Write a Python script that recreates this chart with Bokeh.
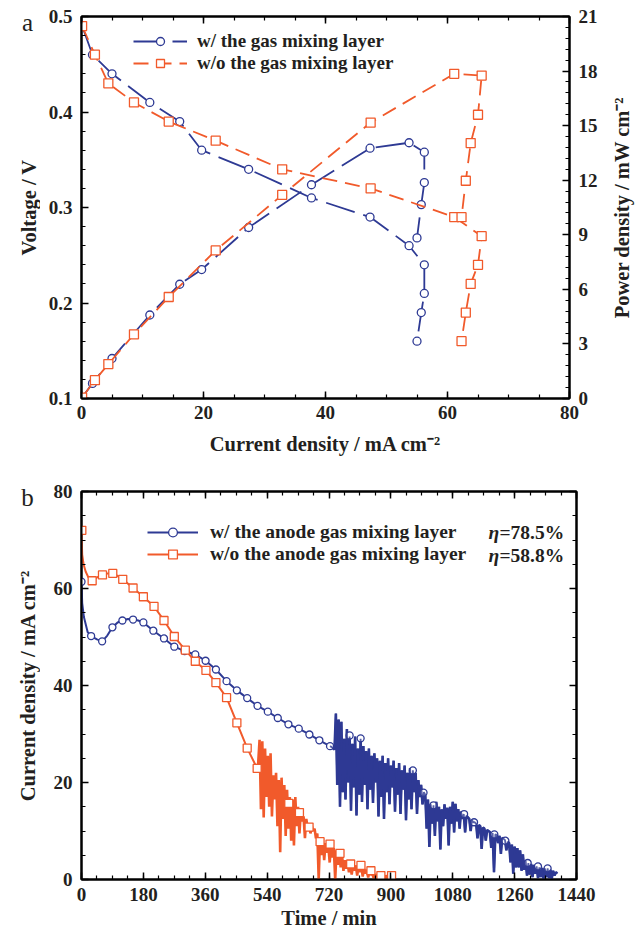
import numpy as np
from bokeh.plotting import figure
from bokeh.models import (Range1d, LinearAxis, Legend, LegendItem, Label,
                          SingleIntervalTicker, CustomJSTickFormatter)
from bokeh.core.properties import value
from bokeh.layouts import column, row
from bokeh.embed import file_html
from bokeh.resources import INLINE

# ---------------- panel a : polarization / power curves ----------------
I_w = [0.1, 1.8, 5.0, 11.2, 16.1, 19.7, 27.4, 37.7, 47.3, 53.7, 56.2, 56.2, 55.7, 55.0]
V_w = [0.49, 0.46, 0.44, 0.41, 0.39, 0.36, 0.34, 0.31, 0.29, 0.26, 0.24, 0.21, 0.19, 0.16]
P_w = [0.05, 0.83, 2.2, 4.59, 6.28, 7.09, 9.40, 11.75, 13.76, 14.06, 13.54, 11.87, 10.66, 8.83]

I_wo = [0.1, 2.2, 4.4, 8.6, 14.3, 22.0, 32.9, 47.4, 61.1, 65.6, 65.0, 63.8, 63.0, 62.3]
V_wo = [0.49, 0.46, 0.43, 0.41, 0.39, 0.37, 0.34, 0.32, 0.29, 0.27, 0.24, 0.22, 0.19, 0.16]
P_wo = [0.05, 1.01, 1.89, 3.53, 5.58, 8.14, 11.19, 15.17, 17.85, 17.75, 15.6, 14.04, 11.97, 9.97]

# ---------------- panel b : current density vs time ----------------
blue_t = [0, 2, 7, 18, 28, 45, 60, 75, 90, 105, 119, 135, 150, 165, 180, 209, 240, 270,
          300, 331, 361, 391, 422, 452, 482, 512, 542, 571, 602, 632, 663, 692, 723]
blue_j = [61.4, 57.0, 54.1, 51.0, 50.2, 49.5, 49.1, 50.3, 52.0, 53.0, 53.4, 53.7, 53.6, 53.4,
          53.0, 51.3, 49.7, 48.0, 47.1, 46.4, 45.1, 43.3, 40.9, 39.0, 37.4, 35.8, 34.6, 33.3,
          32.0, 31.1, 29.9, 28.7, 27.5]
blue_noise_t0, blue_noise_dt = 728, 4
blue_noise_j = [
    27.3, 27.0, 26.8, 34.2, 19.5, 33.0, 15.0, 32.5, 18.0, 29.0,
    16.5, 31.0, 20.0, 29.5, 14.2, 28.0, 19.0, 29.5, 13.2, 27.0,
    17.5, 29.0, 16.0, 27.5, 19.5, 26.5, 14.5, 27.0, 18.5, 25.5,
    15.8, 26.0, 20.0, 25.0, 13.0, 24.5, 17.0, 25.5, 12.5, 24.0,
    18.0, 25.0, 15.5, 23.5, 19.0, 24.5, 14.0, 23.0, 17.5, 24.0,
    13.5, 22.5, 18.5, 23.5, 12.2, 22.0, 16.5, 23.0, 14.5, 22.5,
    18.0, 22.0, 13.5, 20.5, 17.0, 19.5, 15.5, 18.0, 17.5, 10.5,
    16.5, 6.7, 15.5, 11.5, 15.3, 9.0, 16.0, 12.0, 15.0, 6.2,
    14.5, 11.0, 15.5, 12.5, 14.8, 7.0, 15.0, 11.5, 16.0, 9.7,
    15.6, 12.0, 14.5, 10.5, 14.0, 12.5, 13.5, 9.7, 13.2, 12.8,
    12.5, 10.0, 12.2, 11.8, 11.8, 11.5, 8.5, 11.2, 11.0, 6.3,
    10.7, 10.5, 8.0, 10.2, 10.0, 9.8, 6.5, 9.6, 1.5, 9.3,
    9.2, 7.5, 9.0, 5.3, 8.6, 8.4, 8.1, 6.0, 7.8, 7.5,
    3.5, 7.2, 1.2, 6.8, 2.5, 6.5, 2.5, 6.0, 1.8, 5.2,
    2.0, 3.9, 0.8, 3.4, 1.0, 3.2, 0.5, 3.0, 1.2, 2.7,
    0.3, 2.5, 0.5, 2.4, 0.2, 2.3, 0.5, 2.3, 0.3, 2.0,
    0.2, 1.8, 0.8, 1.5, 1.2]
blue_mark_t = [0, 28, 60, 90, 119, 150, 180, 209, 240, 270, 300, 331, 361, 391, 422, 452, 482,
               512, 542, 571, 602, 632, 663, 692, 723, 780, 812, 964, 995, 1024, 1113, 1142,
               1201, 1233, 1298, 1328, 1356]
blue_mark_j = [61.4, 50.2, 49.1, 52.0, 53.4, 53.6, 53.0, 51.3, 49.7, 48.0, 47.1, 46.4, 45.1,
               43.3, 40.9, 39.0, 37.4, 35.8, 34.6, 33.3, 32.0, 31.1, 29.9, 28.7, 27.5, 29.7,
               29.1, 22.5, 17.9, 15.3, 13.5, 11.8, 9.3, 8.0, 3.4, 2.7, 2.3]

orange_t = [0, 2, 6, 12, 20, 31, 45, 61, 75, 91, 105, 120, 150, 180, 211, 240, 270, 302, 331,
            362, 391, 422, 452, 482, 511]
orange_j = [72.0, 67.0, 65.0, 63.5, 62.3, 61.6, 62.3, 62.8, 63.1, 63.1, 62.6, 61.9, 60.1, 58.3,
            56.3, 53.4, 50.1, 47.3, 45.0, 43.1, 40.6, 37.5, 32.3, 27.1, 22.9]
orange_noise_t0, orange_noise_dt = 514, 4
orange_noise_j = [
    24.0, 28.8, 14.5, 28.5, 12.8, 27.0, 17.0, 25.5, 15.0, 26.0,
    13.0, 21.5, 16.5, 22.0, 11.0, 20.5, 5.6, 21.0, 12.5, 19.5,
    9.0, 18.5, 10.5, 17.0, 8.0, 16.5, 7.0, 17.0, 11.0, 15.0,
    9.5, 14.0, 12.0, 13.0, 8.5, 12.5, 10.5, 11.5, 9.5, 11.0,
    10.0, 10.5, 8.5, 9.5, 0.0, 8.7, 5.0, 8.0, 4.0, 7.5,
    5.5, 7.0, 3.5, 7.2, 4.5, 6.5, 0.0, 6.0, 3.0, 5.5,
    2.5, 5.0, 1.8, 4.0, 2.2, 3.5, 1.5, 3.2, 1.0, 3.0,
    1.8, 2.9, 0.8, 2.8, 1.5, 2.9, 0.6, 2.2, 1.2, 2.0,
    0.4, 1.8, 1.0, 1.2, 0.3, 1.1, 0.6, 1.0, 0.2, 0.8,
    0.5, 0.8, 0.3, 0.8, 0.4, 0.8, 0.5, 0.7, 0.7, 0.6]
orange_mark_t = [1, 31, 61, 91, 120, 150, 180, 211, 240, 270, 302, 331, 362, 391, 422, 452, 482,
                 511, 603, 634, 662, 694, 723, 752, 783, 813, 842, 871, 902]
orange_mark_j = [72.0, 61.6, 62.8, 63.1, 61.9, 60.1, 58.3, 56.3, 53.4, 50.1, 47.3, 45.0, 43.1,
                 40.6, 37.5, 32.3, 27.1, 22.9, 15.7, 13.8, 10.8, 7.8, 7.3, 5.4, 3.2, 2.9, 1.8,
                 0.8, 0.8]

labels_a = ["w/ the gas mixing layer", "w/o the gas mixing layer"]
labels_b = ["w/ the anode gas mixing layer", "w/o the anode gas mixing layer"]
eff_b = ["78.5%", "58.8%"]
title_voltage = "Voltage / V"
title_power = "Power density / mW cm\u207b\u00b2"
title_current = "Current density / mA cm\u207b\u00b2"
title_time = "Time / min"

blue_noise_t = blue_noise_t0 + blue_noise_dt * np.arange(len(blue_noise_j))
orange_noise_t = orange_noise_t0 + orange_noise_dt * np.arange(len(orange_noise_j))

FONT = "Liberation Serif"
TXT = "#231F20"
BLUE = "#2E3A94"
ORANGE = "#F15A2B"
AX_FS = "20.5px"
TICK_FS = "19px"


def style_axis(ax, interval, minor, show_labels=True):
    ax.ticker = SingleIntervalTicker(interval=interval, num_minor_ticks=minor)
    ax.axis_line_width = 2
    ax.axis_line_color = "black"
    ax.major_tick_in = 7
    ax.major_tick_out = 0
    ax.minor_tick_in = 4
    ax.minor_tick_out = 0
    ax.major_tick_line_width = 1.5
    ax.minor_tick_line_width = 1.2
    ax.major_tick_line_color = "black"
    ax.minor_tick_line_color = "black"
    ax.major_label_text_font = FONT
    ax.major_label_text_font_style = "bold"
    ax.major_label_text_font_size = TICK_FS
    ax.major_label_text_color = TXT
    ax.axis_label_text_font = FONT
    ax.axis_label_text_font_style = "bold"
    ax.axis_label_text_font_size = AX_FS
    ax.axis_label_text_color = TXT
    if not show_labels:
        ax.formatter = CustomJSTickFormatter(code="return ''")
        ax.major_label_text_font_size = "0px"
        ax.major_label_standoff = 0
        ax.axis_label_standoff = 0


def side_fig(w, h):
    f = figure(width=w, height=h, x_range=Range1d(0, w), y_range=Range1d(0, h),
               output_backend="svg", toolbar_location=None, min_border=0,
               x_axis_location=None, y_axis_location=None)
    try:
        f.frame_align = False
    except Exception:
        pass
    try:
        f.title = None
    except Exception:
        f.title.text_font_size = "0px"
        f.title.standoff = 0
    f.xgrid.visible = False
    f.ygrid.visible = False
    f.outline_line_color = None
    return f


def side_text(f, x, y, txt, size, style="bold", angle=0.0):
    f.text(x=[x], y=[y], text=[txt], angle=angle, text_font=value(FONT), text_font_size=size,
           text_font_style=style, text_color=TXT, text_align="center", text_baseline="middle")


# ================= panel a =================
p1 = figure(frame_width=488, frame_height=382, x_range=Range1d(0, 80), y_range=Range1d(0.1, 0.5),
            output_backend="svg", toolbar_location=None,
            min_border_left=41, min_border_right=38, min_border_top=16, min_border_bottom=67)
p1.extra_y_ranges = {"pw": Range1d(0, 21)}
p1.xgrid.visible = False
p1.ygrid.visible = False
p1.outline_line_color = "black"
p1.outline_line_width = 2

style_axis(p1.xaxis[0], 20, 4)
p1.xaxis[0].axis_label = title_current
p1.xaxis[0].major_label_standoff = 7
p1.xaxis[0].axis_label_standoff = 11
style_axis(p1.yaxis[0], 0.1, 5)
p1.yaxis[0].major_label_standoff = 9

ax_r = LinearAxis(y_range_name="pw")
style_axis(ax_r, 3, 5)
ax_r.major_label_standoff = 9
p1.add_layout(ax_r, "right")
ax_t = LinearAxis()
style_axis(ax_t, 20, 4, show_labels=False)
p1.add_layout(ax_t, "above")

l1 = p1.line(I_w, V_w, color=BLUE, line_width=1.8, line_dash="30 9")
s1 = p1.scatter(I_w, V_w, marker="circle", size=8, line_color=BLUE, fill_color="white", line_width=1.3)
p1.line(I_w, P_w, y_range_name="pw", color=BLUE, line_width=1.8, line_dash="30 9")
p1.scatter(I_w, P_w, y_range_name="pw", marker="circle", size=8, line_color=BLUE,
           fill_color="white", line_width=1.3)
l2 = p1.line(I_wo, V_wo, color=ORANGE, line_width=1.8, line_dash="15 8")
s2 = p1.scatter(I_wo, V_wo, marker="square", size=9, line_color=ORANGE, fill_color="white", line_width=1.3)
p1.line(I_wo, P_wo, y_range_name="pw", color=ORANGE, line_width=1.8, line_dash="15 8")
p1.scatter(I_wo, P_wo, y_range_name="pw", marker="square", size=9, line_color=ORANGE,
           fill_color="white", line_width=1.3)

leg1 = Legend(items=[LegendItem(label=labels_a[0], renderers=[l1, s1]),
                     LegendItem(label=labels_a[1], renderers=[l2, s2])],
              location=(52, 324), padding=0, spacing=0, margin=0,
              glyph_width=54, glyph_height=20, label_height=20, label_standoff=10,
              label_text_font=FONT, label_text_font_style="bold", label_text_font_size="19px",
              label_text_color=TXT, background_fill_alpha=0, border_line_color=None)
p1.add_layout(leg1)

side_a = side_fig(40, 465)
side_text(side_a, 27, 443, "a", "25px", style="normal")
side_text(side_a, 28, 258, title_voltage, AX_FS, angle=np.pi / 2)
side_r = side_fig(31, 465)
side_text(side_r, 14, 258, title_power, AX_FS, angle=np.pi / 2)

# ================= panel b =================
p2 = figure(frame_width=495, frame_height=388, x_range=Range1d(0, 1440), y_range=Range1d(0, 80),
            output_backend="svg", toolbar_location=None,
            min_border_left=41, min_border_right=62, min_border_top=26, min_border_bottom=58)
p2.xgrid.visible = False
p2.ygrid.visible = False
p2.outline_line_color = "black"
p2.outline_line_width = 2

style_axis(p2.xaxis[0], 180, 4)
p2.xaxis[0].axis_label = title_time
p2.xaxis[0].major_label_standoff = 8
p2.xaxis[0].axis_label_standoff = 3
style_axis(p2.yaxis[0], 20, 4)
p2.yaxis[0].major_label_standoff = 9

ax_r2 = LinearAxis()
style_axis(ax_r2, 20, 4, show_labels=False)
p2.add_layout(ax_r2, "right")
ax_t2 = LinearAxis()
style_axis(ax_t2, 180, 4, show_labels=False)
p2.add_layout(ax_t2, "above")

noise_bt = [blue_t[-1]] + list(blue_noise_t)
noise_bj = [blue_j[-1]] + blue_noise_j
bl = p2.line(blue_t, blue_j, color=BLUE, line_width=2)
p2.line(noise_bt, noise_bj, color=BLUE, line_width=2.6)
bs = p2.scatter(blue_mark_t, blue_mark_j, marker="circle", size=7, line_color=BLUE,
                fill_color="white", line_width=1.3)
p2.line(noise_bt, noise_bj, color=BLUE, line_width=1.8, line_alpha=0.8)

ol = p2.line(orange_t, orange_j, color=ORANGE, line_width=2)
p2.line([orange_t[-1]] + list(orange_noise_t), [orange_j[-1]] + orange_noise_j, color=ORANGE,
        line_width=2.6)
os_ = p2.scatter(orange_mark_t, orange_mark_j, marker="square", size=8, line_color=ORANGE,
                 fill_color="white", line_width=1.3)

leg2 = Legend(items=[LegendItem(label=labels_b[0], renderers=[bl, bs]),
                     LegendItem(label=labels_b[1], renderers=[ol, os_])],
              location=(66, 314), padding=0, spacing=0, margin=0,
              glyph_width=51, glyph_height=22, label_height=22, label_standoff=12,
              label_text_font=FONT, label_text_font_style="bold", label_text_font_size="19.5px",
              label_text_color=TXT, background_fill_alpha=0, border_line_color=None)
p2.add_layout(leg2)

for k, yv in enumerate([71.6, 66.9]):
    p2.add_layout(Label(x=1184, y=yv, text="\u03b7", text_font=FONT, text_font_size="19.5px",
                        text_font_style="bold italic", text_baseline="middle", text_color=TXT))
    p2.add_layout(Label(x=1216, y=yv, text="=" + eff_b[k], text_font=FONT, text_font_size="19.5px",
                        text_font_style="bold", text_baseline="middle", text_color=TXT))

side_b = side_fig(40, 472)
side_text(side_b, 27, 440, "b", "25px", style="normal")
side_text(side_b, 27, 252, title_current, AX_FS, angle=np.pi / 2)

layout = column(row(side_a, p1, side_r, spacing=0), row(side_b, p2, spacing=0), spacing=0)
open("out.html", "w").write(file_html(layout, INLINE))
